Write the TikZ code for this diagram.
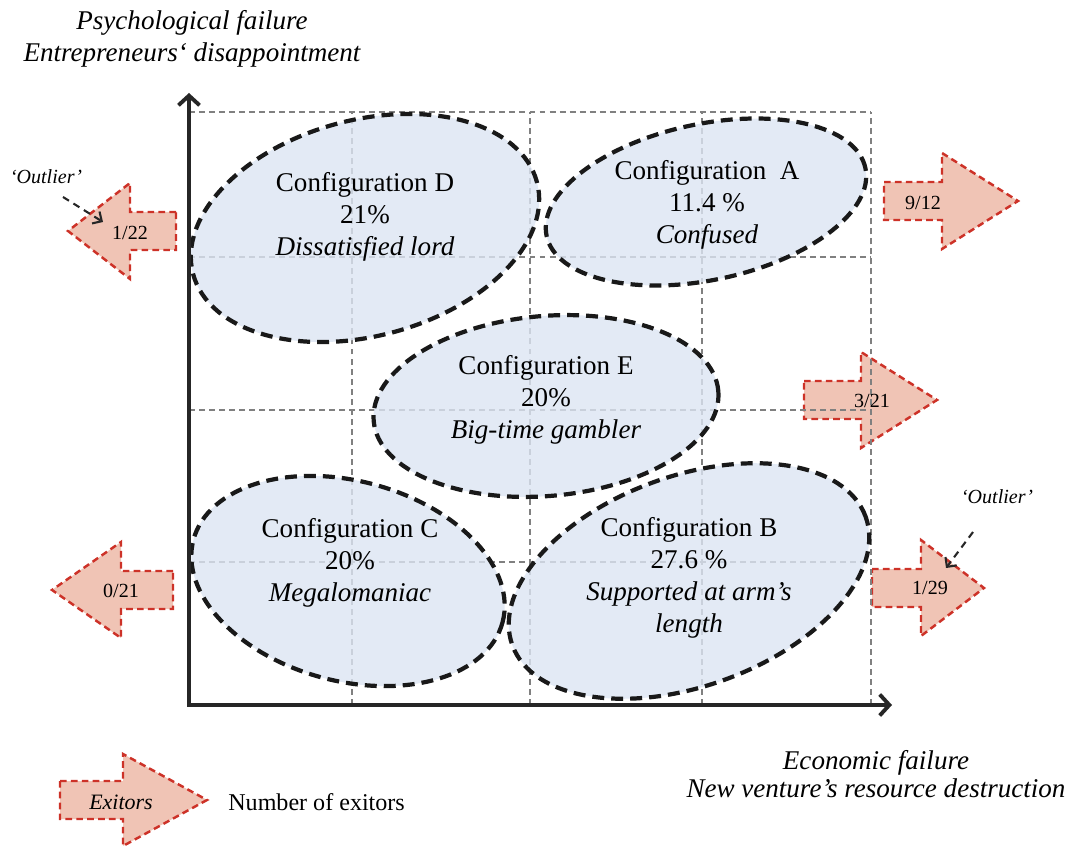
\documentclass[tikz,border=0pt]{standalone}
\usepackage{fontspec}
\setmainfont{Liberation Serif}
\usetikzlibrary{shapes.geometric, arrows.meta}

\definecolor{cfgfill}{RGB}{220,229,242}
\definecolor{exitfill}{RGB}{240,196,181}
\definecolor{exitline}{RGB}{205,50,40}
\definecolor{gridgray}{RGB}{128,128,128}

\tikzset{
  cfgshape/.style={ellipse, draw=black!90, fill=cfgfill, fill opacity=0.8, line width=2.4pt,
    dash pattern=on 6.8pt off 4pt, inner sep=0pt},
  cfgtext/.style={align=center, font=\fontsize{15.4}{18.2}\selectfont},
  exitor/.style={draw=exitline, fill=exitfill, line width=1.4pt, dash pattern=on 3.8pt off 2.4pt},
  exittext/.style={font=\fontsize{11.4}{13}\selectfont},
  gridline/.style={draw=gridgray, line width=0.8pt, dash pattern=on 3.4pt off 2.3pt},
  axis/.style={line width=2.2pt, black!85, line join=miter,
    >={Straight Barb[length=5.5pt, width=12pt, line width=2.2pt]}},
  outlier/.style={font=\itshape\fontsize{11.4}{13}\selectfont},
  outlierline/.style={black!85, line width=1.2pt, dash pattern=on 4pt off 3pt,
    >={Straight Barb[length=4pt, width=8pt]}},
  axislabel/.style={align=center, font=\itshape\fontsize{15.4}{18.2}\selectfont}
}

\begin{document}
\begin{tikzpicture}[x=0.02cm, y=0.02cm]
  \useasboundingbox (0,0) rectangle (1072,846);

  % exitor arrows
  \draw[exitor] (884,664) -- (942,664) -- (942,693) -- (1018,645) -- (942,597) -- (942,626) -- (884,626) -- cycle;
  \draw[exitor] (804,465) -- (861,465) -- (861,494) -- (937,446) -- (861,398) -- (861,427) -- (804,427) -- cycle;
  \draw[exitor] (176,634) -- (130,634) -- (130,663) -- (68,615) -- (130,567) -- (130,596) -- (176,596) -- cycle;
  \draw[exitor] (872,277) -- (921,277) -- (921,306) -- (984,258) -- (921,210) -- (921,239) -- (872,239) -- cycle;
  \draw[exitor] (173,275) -- (121,275) -- (121,304) -- (52,256) -- (121,208) -- (121,237) -- (173,237) -- cycle;
  \draw[exitor] (60,65) -- (123,65) -- (123,92) -- (207,46) -- (123,0) -- (123,27) -- (60,27) -- cycle;

  % grid
  \draw[gridline] (352,141) -- (352,734);
  \draw[gridline] (530,141) -- (530,734);
  \draw[gridline] (702,141) -- (702,734);
  \draw[gridline] (871,141) -- (871,734);
  \draw[gridline] (189,734) -- (871,734);
  \draw[gridline] (189,589) -- (871,589);
  \draw[gridline] (189,436) -- (871,436);
  \draw[gridline] (189,284) -- (871,284);

  % configurations
  \begin{scope}[every node/.style={cfgshape}]
    \node (cfgD) [minimum width=7.12cm, minimum height=4.32cm, rotate=15] at (365,618) {};
    \node (cfgA) [minimum width=6.52cm, minimum height=3.12cm, rotate=12] at (706,644) {};
    \node (cfgE) [minimum width=6.92cm, minimum height=3.6cm, rotate=5] at (546,440) {};
    \node (cfgC) [minimum width=6.4cm, minimum height=4.0cm, rotate=-15] at (348,265) {};
    \node (cfgB) [minimum width=7.52cm, minimum height=4.2cm, rotate=20] at (689,265) {};
  \end{scope}

  % axes
  \coordinate (origin) at (189,141);
  \coordinate (ytip) at (189,753);
  \coordinate (xtip) at (892,141);
  \draw[axis,<->] (ytip) -- (origin) -- (xtip);

  % texts
  \begin{scope}[every node/.style={cfgtext}]
    \node (txtD) at (365,629) {Configuration D\\21\%\\\textit{Dissatisfied lord}};
    \node (txtA) at (707,641) {Configuration\ \ A\\11.4 \%\\\textit{Confused}};
    \node (txtE) at (546,446) {Configuration E\\20\%\\\textit{Big-time gambler}};
    \node (txtC) at (350,283) {Configuration C\\20\%\\\textit{Megalomaniac}};
    \node (txtB) at (689,268) {Configuration B\\27.6 \%\\\textit{Supported at arm’s}\\\textit{length}};
  \end{scope}

  \node[exittext] (n912) at (923,643) {9/12};
  \node[exittext] (n321) at (872,445) {3/21};
  \node[exittext] (n122) at (130,613) {1/22};
  \node[exittext] (n129) at (930,258) {1/29};
  \node[exittext] (n021) at (121,255) {0/21};
  \node[font=\itshape\fontsize{12.5}{14}\selectfont] (legexit) at (121,44) {Exitors};
  \node[font=\fontsize{13.7}{16}\selectfont, anchor=west, inner sep=0pt] (legtext) at (228,44) {Number of exitors};

  % outliers
  \node[outlier] (outL) at (46,669) {‘Outlier’};
  \node[outlier] (outR) at (997,349) {‘Outlier’};
  \coordinate (outLs) at (63,649);
  \coordinate (outLe) at (103,624);
  \coordinate (outRs) at (973,314);
  \coordinate (outRe) at (946,278);
  \draw[outlierline,->] (outLs) -- (outLe);
  \draw[outlierline,->] (outRs) -- (outRe);

  % axis labels
  \node[axislabel] (ylabel) at (192,807) {Psychological failure\\Entrepreneurs‘ disappointment};
  \node[axislabel, font=\itshape\fontsize{15.4}{16}\selectfont] (xlabel) at (876,72) {Economic failure\\New venture’s resource destruction};
\end{tikzpicture}
\end{document}
